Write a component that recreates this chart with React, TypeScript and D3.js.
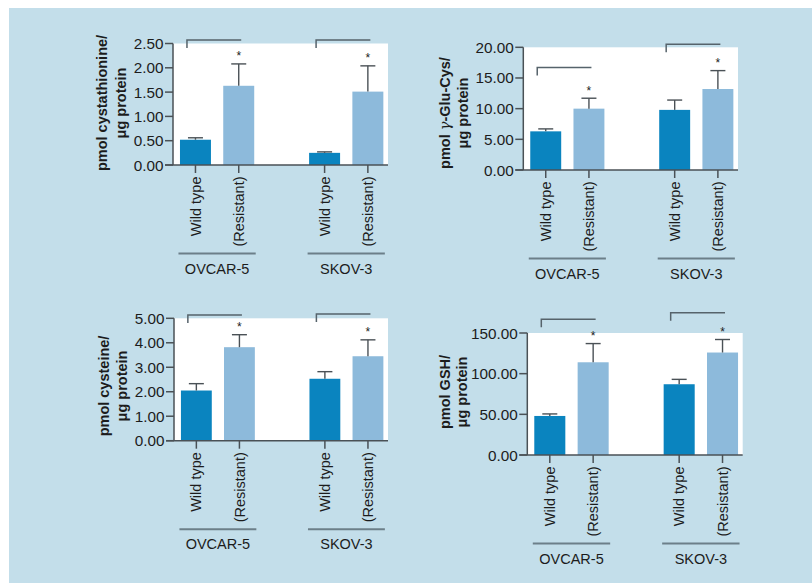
import React from "react";
import * as d3 from "d3";

// ---------- data ----------
const groups = ["OVCAR-5", "SKOV-3"];
const conditions = ["Wild type", "(Resistant)"];

// order: OVCAR-5 WT, OVCAR-5 Res, SKOV-3 WT, SKOV-3 Res
const cystathionineMean = [0.52, 1.63, 0.25, 1.51];
const cystathionineErr = [0.04, 0.45, 0.02, 0.53];
const cystathionineTicks = [0, 0.5, 1.0, 1.5, 2.0, 2.5];
const cystathionineBrackets = [2.57, 2.57];

const gluCysMean = [6.3, 10.0, 9.8, 13.2];
const gluCysErr = [0.4, 1.7, 1.6, 3.0];
const gluCysTicks = [0, 5, 10, 15, 20];
const gluCysBrackets = [16.7, 20.5];

const cysteineMean = [2.05, 3.82, 2.53, 3.45];
const cysteineErr = [0.28, 0.51, 0.29, 0.67];
const cysteineTicks = [0, 1, 2, 3, 4, 5];
const cysteineBrackets = [5.13, 5.18];

const gshMean = [48, 114, 87, 126];
const gshErr = [2.5, 23, 6, 16];
const gshTicks = [0, 50, 100, 150];
const gshBrackets = [166.8, 175];

const significant = [false, true, false, true];

type PanelData = {
  label: React.ReactNode[];
  means: number[];
  errs: number[];
  ticks: number[];
  brackets: number[];
};

const panelData: PanelData[] = [
  { label: ["pmol cystathionine/", "μg protein"], means: cystathionineMean, errs: cystathionineErr, ticks: cystathionineTicks, brackets: cystathionineBrackets },
  { label: [<>pmol <tspan fontWeight="normal" fontFamily="'DejaVu Serif', serif" fontStyle="italic">γ</tspan>-Glu-Cys/</>, "μg protein"], means: gluCysMean, errs: gluCysErr, ticks: gluCysTicks, brackets: gluCysBrackets },
  { label: ["pmol cysteine/", "μg protein"], means: cysteineMean, errs: cysteineErr, ticks: cysteineTicks, brackets: cysteineBrackets },
  { label: ["pmol GSH/", "μg protein"], means: gshMean, errs: gshErr, ticks: gshTicks, brackets: gshBrackets },
];

// ---------- layout ----------
const layouts = [
  { x0: 173, x1: 388, yTop: 43.5, yBot: 165, lx1: 102, lx2: 121, lcy: 103 },
  { x0: 523.3, x1: 738, yTop: 47.3, yBot: 170, lx1: 445, lx2: 462.5, lcy: 113 },
  { x0: 174, x1: 388, yTop: 318.3, yBot: 440.7, lx1: 104, lx2: 121.5, lcy: 386 },
  { x0: 527.3, x1: 742.7, yTop: 333, yBot: 455, lx1: 445, lx2: 461.7, lcy: 392 },
];

const FONT = "'Liberation Sans', Arial, Helvetica, sans-serif";
const TEXT = "#1c1c1c";
const AXIS = "#4a5156";
const BRACKET = "#56636b";
const GROUPLINE = "#6c7f89";
const BG = "#c3deea";
const colors = ["#0a84bf", "#8dbadb"];

function Panel({ d, l }: { d: PanelData; l: (typeof layouts)[number] }) {
  const y = d3.scaleLinear().domain([0, d3.max(d.ticks) as number]).range([l.yBot, l.yTop]);
  const xg = d3
    .scaleBand<string>()
    .domain(groups)
    .range([l.x0, l.x1])
    .paddingInner(0.425)
    .paddingOuter(0.045)
    .align(0.6);
  const xc = d3.scaleBand<string>().domain(conditions).range([0, xg.bandwidth()]).paddingInner(0.284).paddingOuter(0);
  const fmt = d3.format(".2f");

  const bars = groups.flatMap((g, gi) =>
    conditions.map((c, ci) => {
      const i = gi * 2 + ci;
      const x = (xg(g) as number) + (xc(c) as number);
      return { g, c, gi, ci, i, x, w: xc.bandwidth(), cx: x + xc.bandwidth() / 2, v: d.means[i], e: d.errs[i] };
    })
  );

  return (
    <g>
      <rect x={l.x0} y={l.yTop} width={l.x1 - l.x0} height={l.yBot - l.yTop} fill="#ffffff" />
      {/* bars */}
      {bars.map((b) => (
        <rect key={"b" + b.i} x={b.x} y={y(b.v)} width={b.w} height={y(0) - y(b.v)} fill={colors[b.ci]} />
      ))}
      {/* error bars */}
      {bars.map((b) => (
        <g key={"e" + b.i} stroke={AXIS} strokeWidth={1.4}>
          <line x1={b.cx} x2={b.cx} y1={y(b.v)} y2={y(b.v + b.e)} />
          <line x1={b.cx - 7.5} x2={b.cx + 7.5} y1={y(b.v + b.e)} y2={y(b.v + b.e)} />
        </g>
      ))}
      {/* asterisks */}
      {bars
        .filter((b) => significant[b.i])
        .map((b) => {
          const cy = y(b.v + b.e) - 10;
          return (
            <text key={"s" + b.i} x={b.cx} y={cy + 6.5} textAnchor="middle" fontSize={12} fontFamily={FONT} fill={TEXT}>
              *
            </text>
          );
        })}
      {/* brackets */}
      {groups.map((g, gi) => {
        const left = bars[gi * 2].cx - 8.5;
        const right = bars[gi * 2 + 1].cx + 2.5;
        const yy = y(d.brackets[gi]);
        return (
          <path key={"br" + g} d={`M${left},${yy + 8}V${yy}H${right}`} fill="none" stroke={BRACKET} strokeWidth={1.5} />
        );
      })}
      {/* y axis */}
      <line x1={l.x0} x2={l.x0} y1={y(0)} y2={l.yTop} stroke={AXIS} strokeWidth={1.5} />
      {d.ticks.map((t) => (
        <g key={"t" + t}>
          <line x1={l.x0 - 8} x2={l.x0} y1={y(t)} y2={y(t)} stroke={AXIS} strokeWidth={1.5} />
          <text x={l.x0 - 9.5} y={y(t)} dy="0.36em" textAnchor="end" fontSize={15.3} fontFamily={FONT} fill={TEXT}>
            {fmt(t)}
          </text>
        </g>
      ))}
      {/* x axis */}
      <line x1={l.x0 - 8} x2={l.x1} y1={y(0)} y2={y(0)} stroke={AXIS} strokeWidth={1.5} />
      {bars.map((b) => (
        <g key={"xt" + b.i}>
          <line x1={b.cx} x2={b.cx} y1={y(0)} y2={y(0) + 8} stroke={AXIS} strokeWidth={1.5} />
          <text
            transform={`translate(${b.cx},${y(0) + 11.5}) rotate(-90)`}
            dy="0.35em"
            textAnchor="end"
            fontSize={14.5}
            fontFamily={FONT}
            fill={TEXT}
          >
            {b.c}
          </text>
        </g>
      ))}
      {/* group lines and labels */}
      {groups.map((g) => {
        const gx = xg(g) as number;
        return (
          <g key={"g" + g}>
            <line x1={gx - 1.5} x2={gx + xg.bandwidth() + 1.5} y1={y(0) + 88.5} y2={y(0) + 88.5} stroke={GROUPLINE} strokeWidth={2} />
            <text x={gx + xg.bandwidth() / 2} y={y(0) + 103.5} dy="0.36em" textAnchor="middle" fontSize={14.5} fontFamily={FONT} fill={TEXT}>
              {g}
            </text>
          </g>
        );
      })}
      {/* y label */}
      {[l.lx1, l.lx2].map((lx, li) => (
        <text
          key={"yl" + li}
          transform={`translate(${lx},${l.lcy}) rotate(-90)`}
          dy="0.35em"
          textAnchor="middle"
          fontSize={14.5}
          fontWeight="bold"
          fontFamily={FONT}
          fill={TEXT}
        >
          {d.label[li]}
        </text>
      ))}
    </g>
  );
}

export default function App() {
  return (
    <svg
      width={812}
      height={583}
      style={{ position: "absolute", left: 0, top: 0, display: "block" }}
      xmlns="http://www.w3.org/2000/svg"
    >
      <rect x={0} y={0} width={812} height={583} fill="#ffffff" />
      <rect x={9} y={8} width={803} height={575} fill={BG} />
      {panelData.map((d, i) => (
        <Panel key={i} d={d} l={layouts[i]} />
      ))}
    </svg>
  );
}
